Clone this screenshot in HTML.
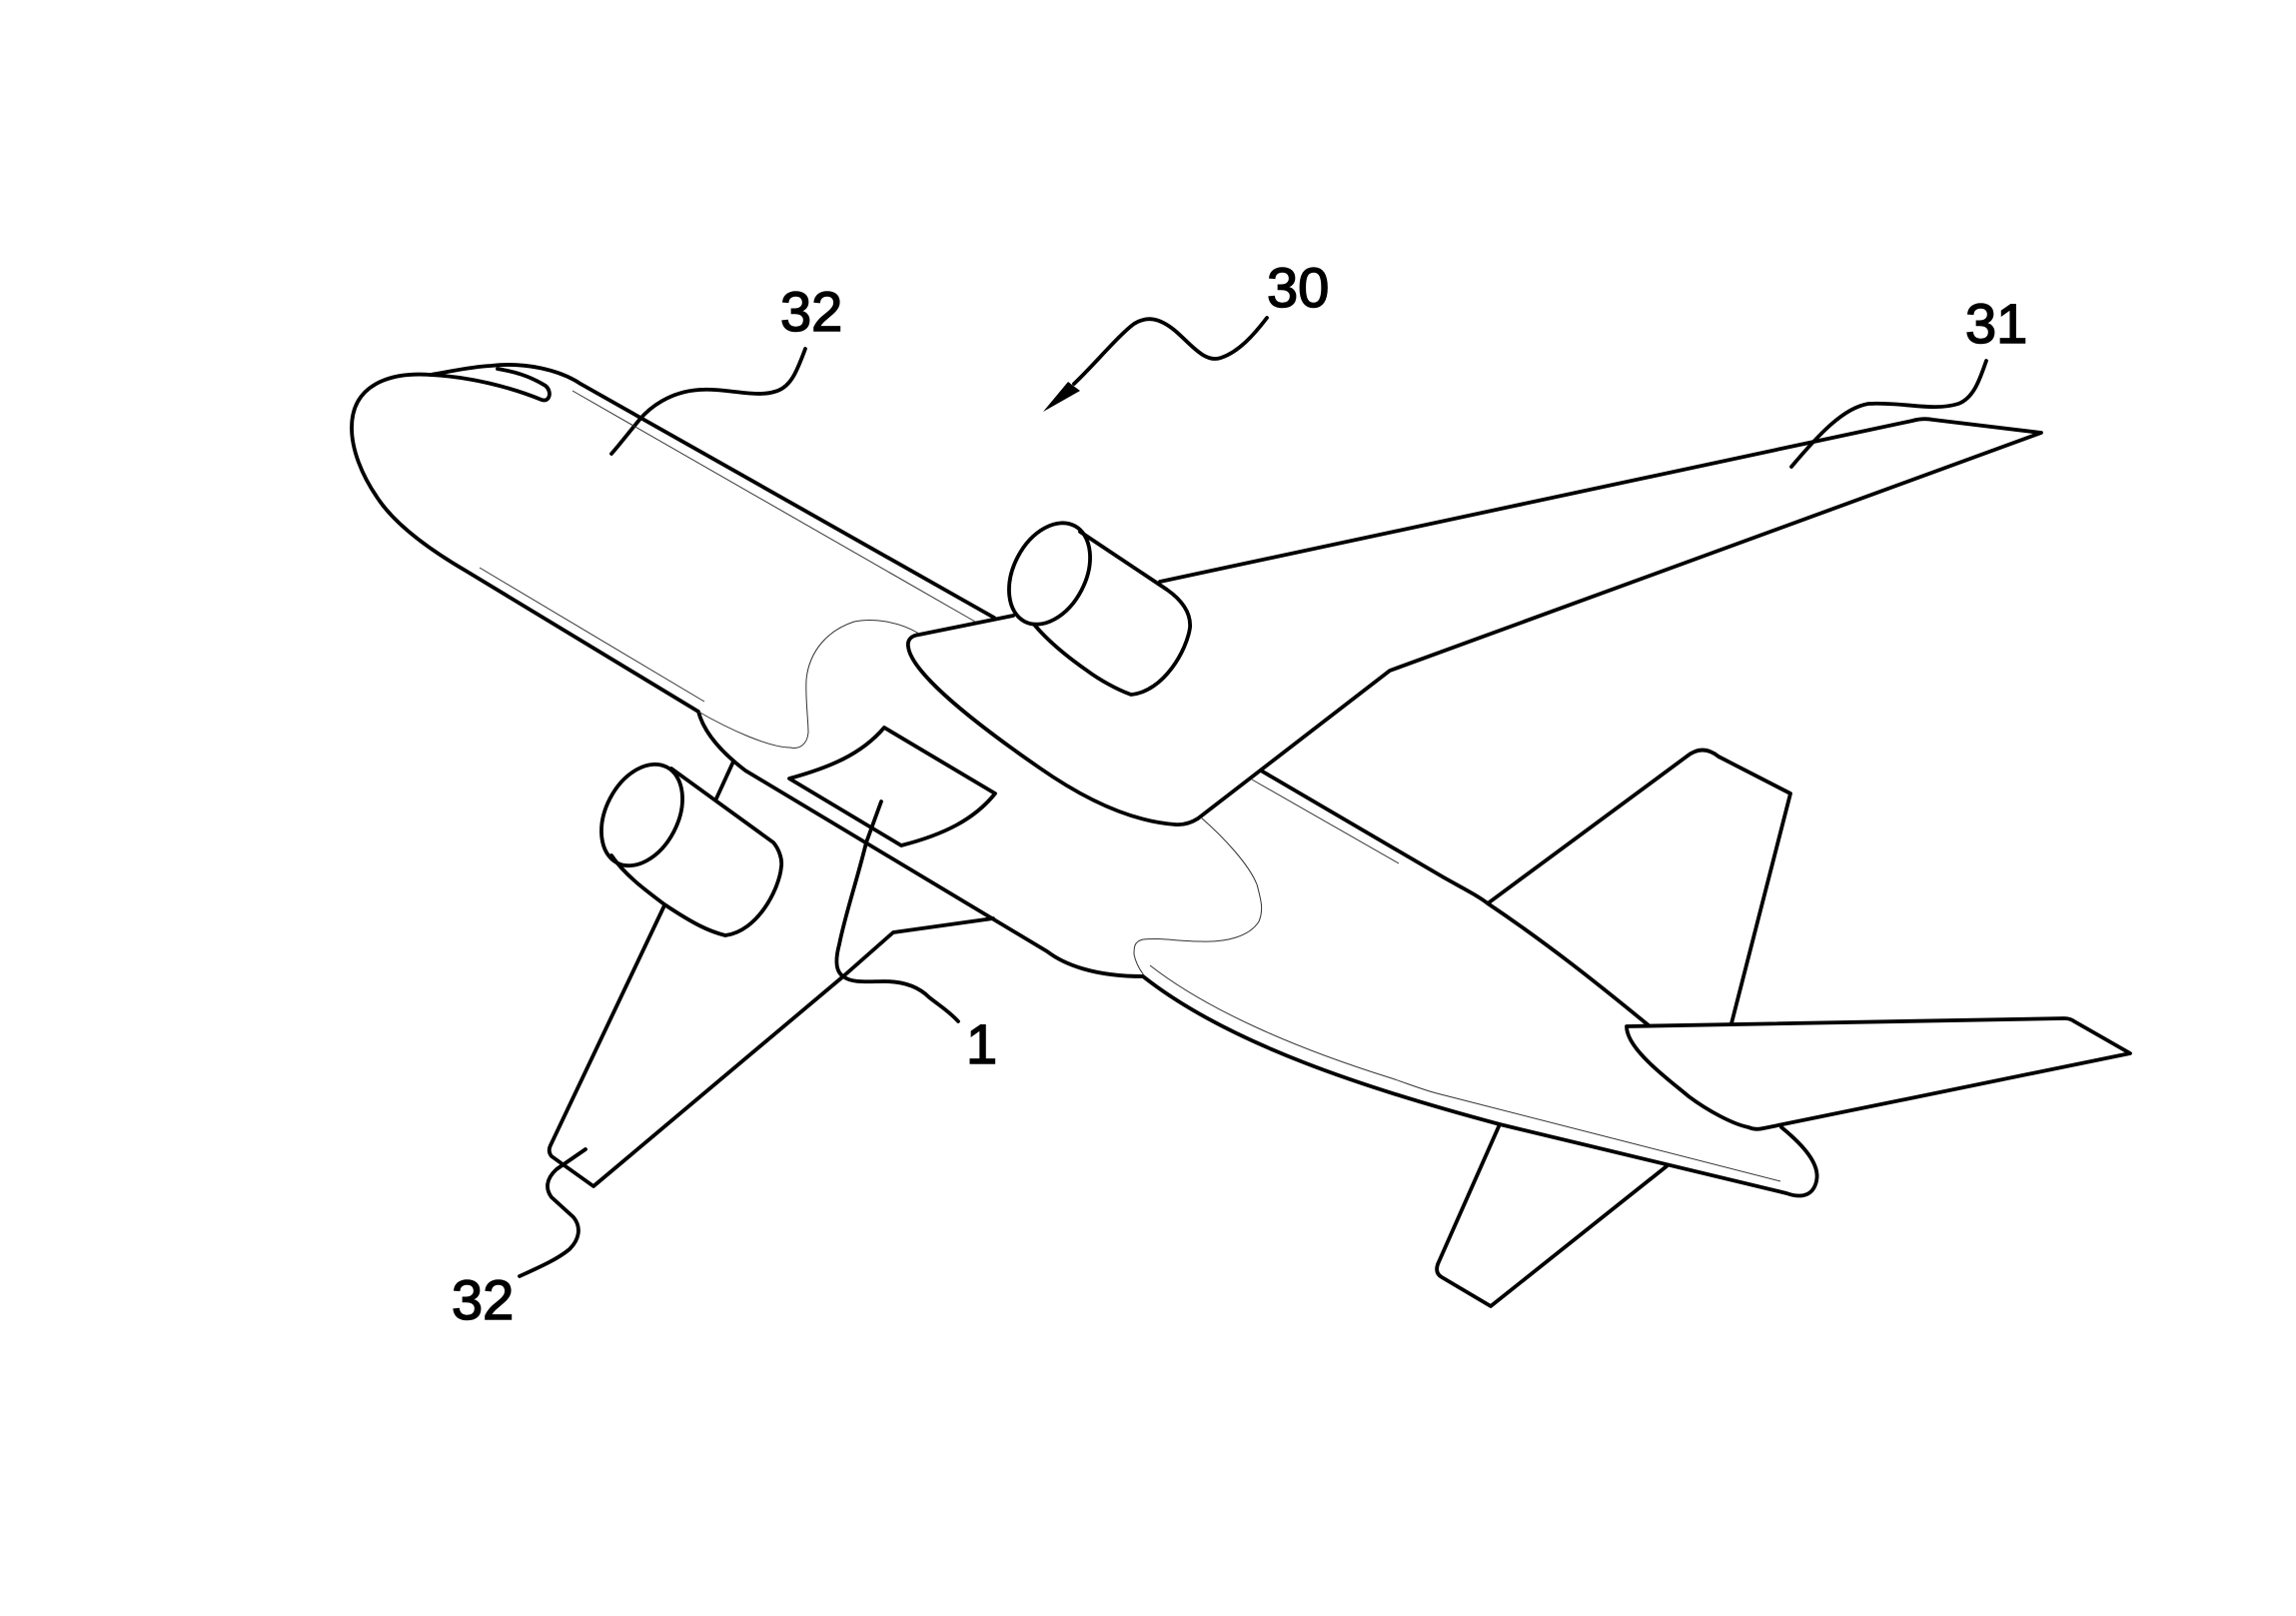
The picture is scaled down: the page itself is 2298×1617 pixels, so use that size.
<!DOCTYPE html>
<html><head><meta charset="utf-8"><style>
html,body{margin:0;padding:0;background:#fff}
svg{display:block}
text{font-family:"Liberation Sans",sans-serif;font-size:56px;fill:#000;stroke:#000;stroke-width:1.5}
</style></head><body>
<svg width="2298" height="1617" viewBox="0 0 2298 1617" xmlns="http://www.w3.org/2000/svg">
<rect width="2298" height="1617" fill="#fff"/>
<g fill="none" stroke="#000" stroke-width="3.8" stroke-linecap="round" stroke-linejoin="round">
<!-- nose and forward fuselage -->
<path d="M995 618L581 384C560 370 525 362 491 366C470 367 450 372 431 375C390 372 352 385 352 428C352 450 362 475 377 497C395 525 430 550 466 571L699 712C705 735 725 755 746 771L1048 952C1065 965 1095 977 1144 977"/>
<!-- cockpit window -->
<path d="M431 375C470 377 510 387 542 400C550 403 553 392 546 386C530 376 515 372 498 369"/>
<!-- aft fuselage lower edge and tail cone -->
<path d="M1144 977C1230 1045 1370 1090 1501 1125L1788 1194C1805 1200 1815 1195 1818 1182C1822 1165 1805 1146 1783 1128"/>
<!-- aft fuselage upper edge -->
<path d="M1262 771L1445 878C1470 892 1480 897 1489 904C1550 945 1600 985 1650 1026"/>
<!-- right wing -->
<path d="M1161 582L1806 444L1914 421Q1925 418 1935 420L2043 433L1391 671L1199 819Q1188 826 1176 825C1135 822 1090 803 1040 768C985 730 912 675 909 647C908 640 912 636 920 635L1014 616"/>
<!-- right engine -->
<ellipse cx="1050.5" cy="574" rx="36" ry="54" transform="rotate(27.5 1050.5 574)"/>
<path d="M1081 532L1168 590C1185 602 1192 615 1191 628C1188 650 1165 692 1132 695C1118 690 1100 680 1088 671C1065 655 1048 640 1036 626"/>
<!-- left engine -->
<ellipse cx="642.5" cy="815.5" rx="36" ry="54" transform="rotate(27.5 642.5 815.5)"/>
<path d="M672 769L774 843C780 850 783 860 782 867C780 890 758 932 726 936C710 932 695 925 665 905C645 890 625 875 612 856"/>
<path d="M717 799L734 762"/>
<!-- left wing -->
<path d="M665 906L551 1146Q548 1152 552 1157L594 1187L844 977L894 933L994 919"/>
<!-- panel -->
<path d="M885 728L996 794C975 820 945 835 902 846L790 779C830 768 862 755 885 728Z"/>
<!-- tail surfaces -->
<path d="M1489 904L1688 757Q1704 744 1720 757L1792 794L1733 1024"/>
<path d="M1628 1027L2066 1019Q2072 1019 2076 1022L2132 1054L1765 1129Q1757 1131 1750 1128C1735 1125 1710 1112 1690 1097C1670 1080 1628 1050 1628 1027Z"/>
<path d="M1501 1125L1439 1265Q1436 1274 1443 1278L1492 1307L1668 1167"/>
<!-- leaders -->
<path d="M882 802L867 843C858 880 846 915 840 945C836 960 836 972 844 977C852 984 870 982 885 982C905 982 920 988 930 998C940 1006 950 1012 959 1022"/>
<path d="M806 349C798 370 792 388 775 392C755 398 725 388 700 390C670 392 650 408 640 420C630 432 620 445 612 454"/>
<path d="M1268 318C1255 335 1240 352 1222 358C1205 364 1190 342 1175 330C1160 318 1148 316 1135 324C1120 335 1095 365 1075 384"/>
<path d="M1988 361C1982 378 1976 398 1960 404C1935 412 1905 402 1870 404C1845 408 1820 435 1793 467"/>
<path d="M586 1150L557 1170C546 1180 546 1190 552 1198L574 1218C582 1228 580 1240 570 1250C558 1260 540 1268 520 1277"/>
</g>
<!-- arrowhead -->
<polygon points="1044,412 1069,382 1081,391" fill="#000"/>
<!-- thin lines -->
<g fill="none" stroke="#333" stroke-width="1">
<path d="M573 391L976 622"/>
<path d="M480 568L705 702"/>
<path d="M920 634C900 622 874 618 855 622C830 630 810 650 807 680C806 700 809 720 809 733C808 745 800 750 791 748C770 748 730 730 699 712"/>
<path d="M1202 818C1225 838 1250 865 1258 885C1262 900 1265 910 1260 922C1250 938 1225 943 1202 942C1180 942 1160 938 1144 940C1135 942 1135 948 1135 955C1137 965 1142 972 1145 976"/>
<path d="M1253 780L1400 864"/>
<path d="M1151 966C1210 1012 1300 1050 1393 1079C1408 1084 1423 1090 1438 1094L1782 1182"/>
</g>
<!-- labels -->
<text x="781" y="331">32</text>
<text x="1268" y="307">30</text>
<text x="1967" y="343">31</text>
<text x="967" y="1064">1</text>
<text x="452" y="1320">32</text>
</svg>
</body></html>
